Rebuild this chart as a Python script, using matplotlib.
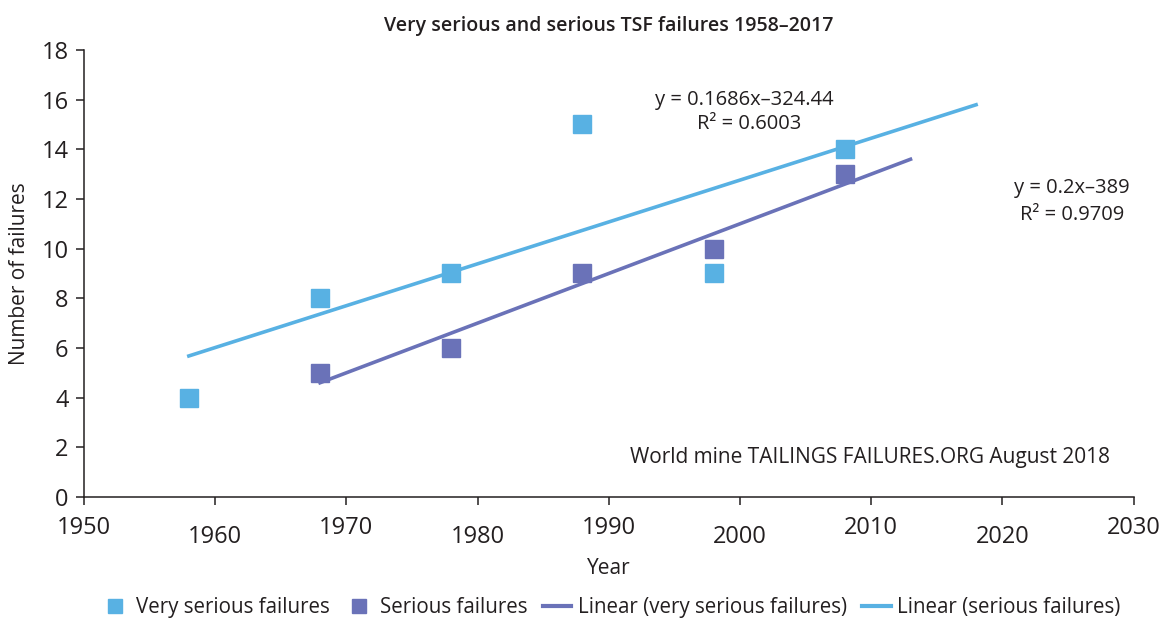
import matplotlib.pyplot as plt
from matplotlib.lines import Line2D

plt.rcParams['font.family'] = ['Open Sans', 'DejaVu Sans']

# data
very_years = [1958, 1968, 1978, 1988, 1998, 2008]
very_counts = [4, 8, 9, 15, 9, 14]
serious_years = [1968, 1978, 1988, 1998, 2008]
serious_counts = [5, 6, 9, 10, 13]

# trendlines as printed on the chart
light_fit = (0.1686, -324.44)   # y = 0.1686x-324.44
light_span = [1958, 2018]
purple_fit = (0.2, -389)        # y = 0.2x-389
purple_span = [1968, 2013]

light = '#58B1E3'
purple = '#6A72B8'
ink = '#231f20'

fig = plt.figure(figsize=(11.65, 6.21), dpi=100)
ax = fig.add_axes([0.072, 0.1997, 0.901, 0.7198])

ax.plot(very_years, very_counts, 's', color=light, ms=13, ls='none', zorder=3)
ax.plot(serious_years, serious_counts, 's', color=purple, ms=13, ls='none', zorder=3)

ax.plot(light_span, [light_fit[0] * x + light_fit[1] for x in light_span],
        color=light, lw=2.6, zorder=2)
ax.plot(purple_span, [purple_fit[0] * x + purple_fit[1] for x in purple_span],
        color=purple, lw=2.6, zorder=2)

ax.set_xlim(1950, 2030)
ax.set_ylim(0, 18)
ax.set_yticks(range(0, 19, 2))
ax.set_xticks([1950, 1970, 1990, 2010, 2030])
ax.set_xticks([1960, 1980, 2000, 2020], minor=True)
ax.set_xticklabels([1950, 1970, 1990, 2010, 2030])
ax.set_xticklabels([1960, 1980, 2000, 2020], minor=True)

for s in ['top', 'right']:
    ax.spines[s].set_visible(False)
for s in ['left', 'bottom']:
    ax.spines[s].set_color(ink)
    ax.spines[s].set_linewidth(1.1)

ax.tick_params(axis='both', which='both', direction='out', length=6, width=1.1,
               color=ink, labelcolor=ink, labelsize=17)
ax.tick_params(axis='x', which='major', pad=8)
ax.tick_params(axis='x', which='minor', pad=14)
ax.tick_params(axis='y', pad=5)

ax.set_xlabel('Year', fontsize=15, color=ink, labelpad=7)
ax.set_ylabel('Number of failures', fontsize=15, color=ink, labelpad=8)
ax.set_title('Very serious and serious TSF failures 1958\u20132017',
             fontsize=14, color=ink, fontweight='semibold', pad=14)

ax.text(2000.3, 16.0, 'y = 0.1686x\u2013324.44', ha='center', va='center',
        fontsize=14.5, color=ink)
ax.text(2000.7, 15.0, 'R\u00b2 = 0.6003', ha='center', va='center',
        fontsize=14.5, color=ink)
ax.text(2025.3, 12.45, 'y = 0.2x\u2013389', ha='center', va='center',
        fontsize=14.5, color=ink)
ax.text(2025.3, 11.36, 'R\u00b2 = 0.9709', ha='center', va='center',
        fontsize=14.5, color=ink)
ax.text(1991.6, 1.61, 'World mine TAILINGS FAILURES.ORG August 2018',
        ha='left', va='center', fontsize=15, color=ink)

handles = [
    Line2D([], [], marker='s', ls='none', color=light, ms=10.5),
    Line2D([], [], marker='s', ls='none', color=purple, ms=10.5),
    Line2D([], [], color=purple, lw=3),
    Line2D([], [], color=light, lw=3),
]
labels = ['Very serious failures', 'Serious failures',
          'Linear (very serious failures)', 'Linear (serious failures)']
fig.legend(handles, labels, loc='center', bbox_to_anchor=(0.524, 0.022), ncol=4,
           frameon=False, fontsize=14.8, handlelength=1.4, handletextpad=0.3,
           columnspacing=0.75, labelcolor=ink)

fig.savefig('out.png', dpi=100)
